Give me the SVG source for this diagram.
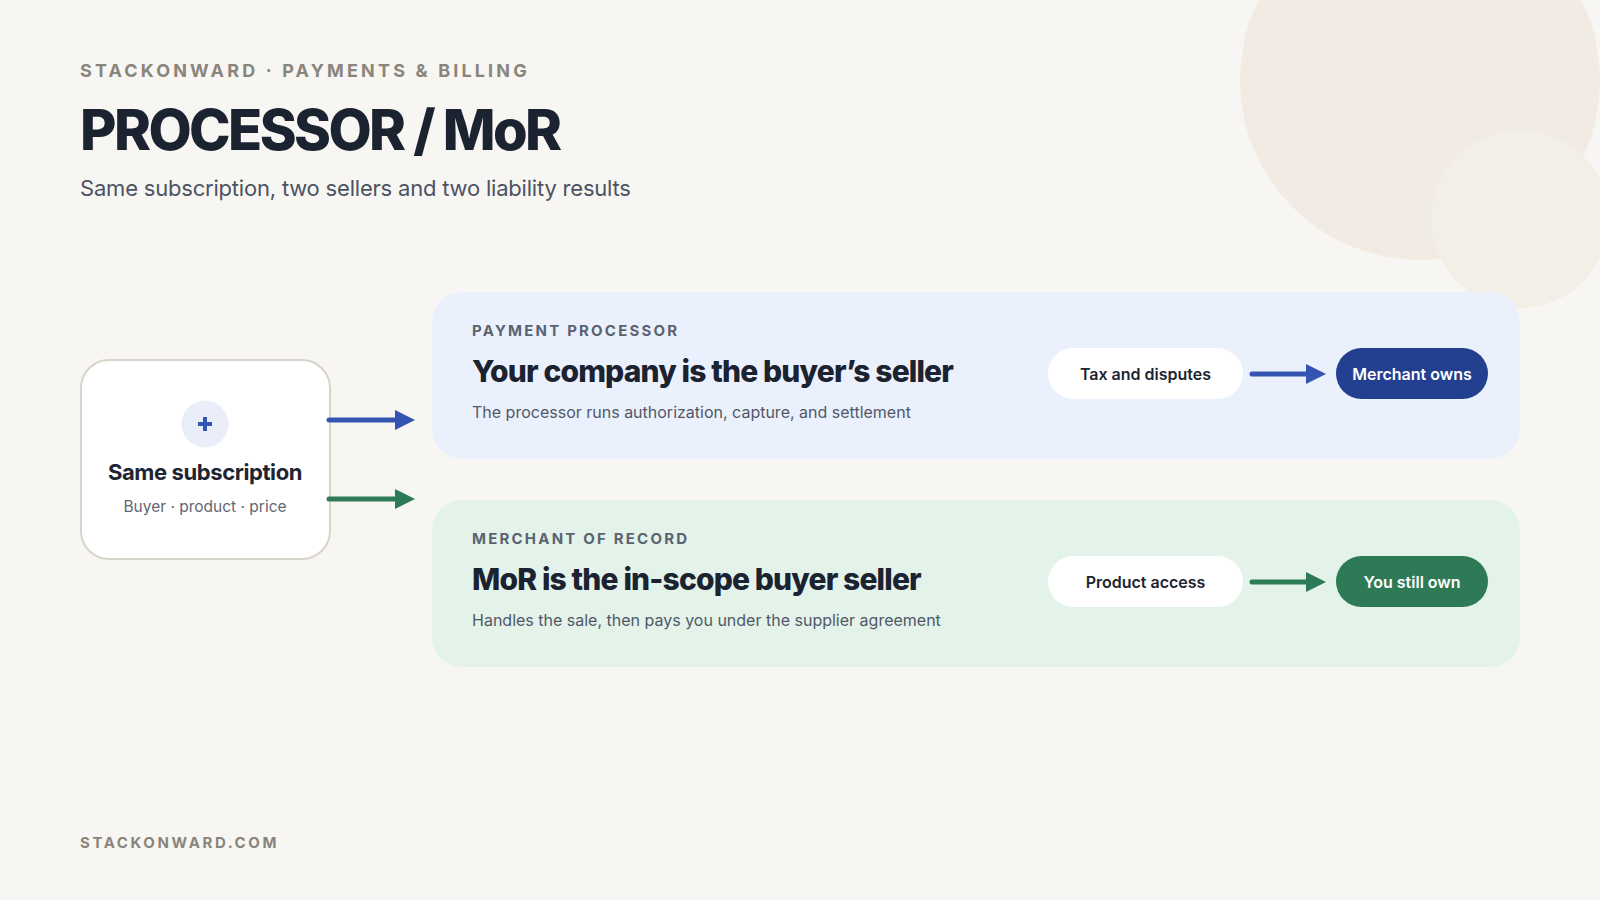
<svg xmlns="http://www.w3.org/2000/svg" width="1600" height="900" viewBox="0 0 1600 900">
<defs>
<style>
text{font-family:Inter,"Liberation Sans",sans-serif}
.eyebrow{font-size:18px;font-weight:700;letter-spacing:3.15px;fill:#8a857b}
.title{font-size:56px;font-weight:800;letter-spacing:-2.6px;fill:#1b2230}
.sub{font-size:22px;font-weight:400;letter-spacing:-0.2px;fill:#4c5362}
.kicker{font-size:15px;font-weight:700;letter-spacing:2.2px;fill:#5b6270}
.head{font-size:30px;font-weight:800;letter-spacing:-0.85px;fill:#1b2230}
.desc{font-size:16px;font-weight:400;fill:#505868}
.pill{font-size:16px;font-weight:600;fill:#1e2430}
.pillw{font-size:16px;font-weight:600;fill:#ffffff}
.blue{stroke:#3454b1;stroke-width:5;stroke-linecap:round;fill:none}
.green{stroke:#2d7a56;stroke-width:5;stroke-linecap:round;fill:none}
</style>
<marker id="ab" viewBox="0 0 10 10" refX="0.5" refY="5" markerWidth="4.6" markerHeight="4" orient="auto" markerUnits="strokeWidth"><path d="M0,0 L10,5 L0,10 z" fill="#3454b1"/></marker>
<marker id="ag" viewBox="0 0 10 10" refX="0.5" refY="5" markerWidth="4.6" markerHeight="4" orient="auto" markerUnits="strokeWidth"><path d="M0,0 L10,5 L0,10 z" fill="#2d7a56"/></marker>
</defs>
<rect width="1600" height="900" fill="#f7f6f2"/>
<circle cx="1420" cy="80" r="180" fill="#f1ebe4"/>
<circle cx="1520" cy="219" r="89" fill="#f2efe7"/>
<g id="header">
<text class="eyebrow" x="80" y="77">STACKONWARD · PAYMENTS &amp; BILLING</text>
<text class="title" x="80" y="150">PROCESSOR / MoR</text>
<text class="sub" x="80" y="196">Same subscription, two sellers and two liability results</text>
</g>
<g id="node-subscription">
<rect x="81" y="360" width="249" height="199" rx="28" fill="#ffffff" stroke="#d9d4cb" stroke-width="2"/>
<circle cx="205" cy="424" r="23.5" fill="#e9eef9"/>
<path d="M205,417 V431 M198,424 H212" stroke="#3454b1" stroke-width="4"/>
<text x="205" y="480" text-anchor="middle" style="font-size:22px;font-weight:700;letter-spacing:-0.4px;fill:#1e2430">Same subscription</text>
<text x="205" y="512" text-anchor="middle" style="font-size:15.5px;fill:#5f6673">Buyer · product · price</text>
</g>
<g id="panel-processor">
<rect x="432" y="292" width="1088" height="167" rx="30" fill="#ebf1fc"/>
<text class="kicker" x="472" y="336">PAYMENT PROCESSOR</text>
<text class="head" x="472" y="382">Your company is the buyer’s seller</text>
<text class="desc" x="472" y="418">The processor runs authorization, capture, and settlement</text>
</g>
<g id="pill-tax">
<rect x="1048" y="348" width="195" height="51" rx="25.5" fill="#ffffff"/>
<text class="pill" x="1145.5" y="379.5" text-anchor="middle">Tax and disputes</text>
</g>
<g id="pill-merchant">
<rect x="1336" y="348" width="152" height="51" rx="25.5" fill="#233f8f"/>
<text class="pillw" x="1412" y="379.5" text-anchor="middle">Merchant owns</text>
</g>
<g id="panel-mor">
<rect x="432" y="500" width="1088" height="167" rx="30" fill="#e3f3e9"/>
<text class="kicker" x="472" y="544">MERCHANT OF RECORD</text>
<text class="head" x="472" y="590">MoR is the in-scope buyer seller</text>
<text class="desc" x="472" y="626">Handles the sale, then pays you under the supplier agreement</text>
</g>
<g id="pill-access">
<rect x="1048" y="556" width="195" height="51" rx="25.5" fill="#ffffff"/>
<text class="pill" x="1145.5" y="587.5" text-anchor="middle">Product access</text>
</g>
<g id="pill-own">
<rect x="1336" y="556" width="152" height="51" rx="25.5" fill="#2e7a57"/>
<text class="pillw" x="1412" y="587.5" text-anchor="middle">You still own</text>
</g>
<g id="connectors">
<line class="blue" x1="329" y1="420" x2="396" y2="420" marker-end="url(#ab)"/>
<line class="green" x1="329" y1="499" x2="396" y2="499" marker-end="url(#ag)"/>
<line class="blue" x1="1252" y1="374" x2="1307" y2="374" marker-end="url(#ab)"/>
<line class="green" x1="1252" y1="582" x2="1307" y2="582" marker-end="url(#ag)"/>
</g>
<text class="eyebrow" x="80" y="848" style="font-size:15px;letter-spacing:2.6px">STACKONWARD.COM</text>
</svg>
